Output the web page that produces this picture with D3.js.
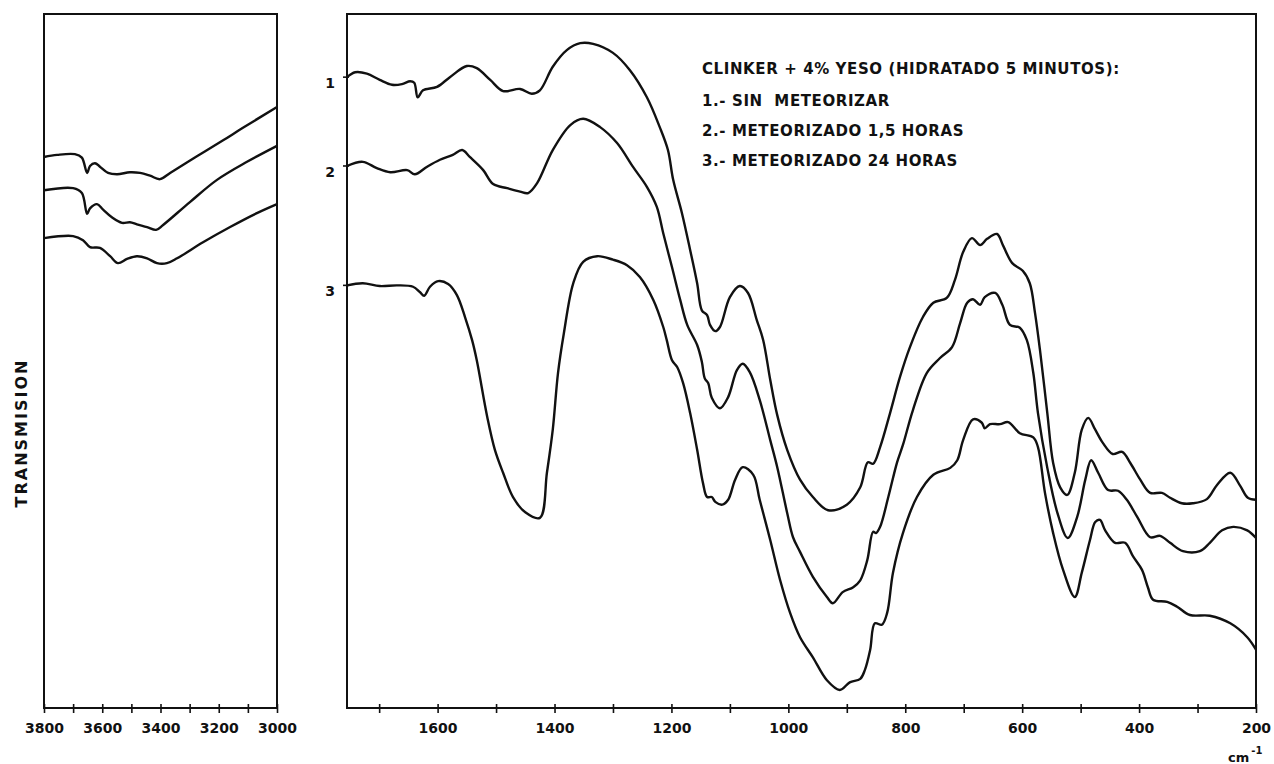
<!DOCTYPE html>
<html>
<head>
<meta charset="utf-8">
<script src="https://cdn.jsdelivr.net/npm/d3@7"></script>
<style>
  body { margin: 0; background: #fff; }
  svg text { font-family: "DejaVu Sans", sans-serif; font-weight: bold; fill: #111; }
</style>
</head>
<body>
<svg id="chart" width="1274" height="764"></svg>
<script>
// IR spectra, [wavenumber cm-1, transmission %] — 3800-3000 cm-1 region
const spectrum1High = [[3800,79.4],[3755,79.7],[3694,79.8],[3670,79.3],[3652,77.1],[3642,78.1],[3625,78.5],[3608,78.0],[3580,77.1],[3549,76.9],[3505,77.2],[3470,77.1],[3436,76.7],[3402,76.2],[3367,77.1],[3275,79.5],[3185,81.8],[3117,83.6],[3000,86.6]];
const spectrum2High = [[3800,74.6],[3700,74.9],[3670,74.2],[3652,71.2],[3642,72.0],[3618,72.6],[3597,71.8],[3567,70.7],[3532,69.9],[3505,70.0],[3481,69.7],[3446,69.3],[3415,68.9],[3391,69.6],[3299,72.9],[3206,76.1],[3103,78.7],[3000,81.0]];
const spectrum3High = [[3800,67.7],[3700,68.0],[3666,67.4],[3642,66.4],[3608,66.3],[3573,65.1],[3546,64.1],[3515,64.7],[3481,65.1],[3446,64.8],[3412,64.1],[3378,64.1],[3343,64.8],[3254,67.1],[3161,69.3],[3069,71.3],[3000,72.6]];

// 1755-200 cm-1 region
const spectrum1Low = [[1755,90.9],[1741,91.6],[1721,91.4],[1699,90.5],[1678,89.8],[1661,89.9],[1647,90.3],[1640,90.1],[1634,88.0],[1625,89.0],[1601,89.5],[1579,90.9],[1550,92.5],[1533,92.2],[1510,90.5],[1488,88.9],[1459,89.2],[1439,88.5],[1425,89.0],[1403,92.4],[1379,94.8],[1356,95.8],[1334,95.7],[1300,94.4],[1271,91.9],[1242,88.0],[1220,83.7],[1206,80.4],[1197,76.1],[1182,71.3],[1168,66.0],[1156,61.2],[1148,57.3],[1139,56.6],[1134,55.2],[1125,54.3],[1117,54.9],[1100,59.2],[1083,60.8],[1069,59.8],[1054,55.9],[1043,53.0],[1031,47.3],[1019,42.2],[1002,37.2],[980,32.9],[958,30.4],[932,28.5],[900,29.3],[877,31.8],[864,35.4],[855,35.2],[843,37.6],[826,42.5],[809,47.7],[792,52.0],[770,56.3],[752,58.4],[729,59.1],[715,61.7],[701,65.7],[686,67.7],[672,66.7],[660,67.6],[643,68.3],[633,66.7],[617,64.1],[599,63.0],[587,61.2],[578,56.9],[569,51.2],[557,42.5],[547,35.3],[535,31.8],[523,30.7],[510,33.9],[498,40.1],[487,41.8],[475,40.1],[462,38.2],[445,36.6],[429,36.9],[415,35.3],[398,32.9],[381,31.0],[361,31.0],[347,30.3],[327,29.5],[308,29.5],[284,30.1],[267,32.1],[244,33.9],[227,32.0],[214,30.3],[200,30.0]];
const spectrum2Low = [[1755,78.1],[1728,78.7],[1704,77.8],[1681,77.2],[1652,77.5],[1639,76.9],[1618,78.0],[1596,79.0],[1574,79.7],[1558,80.4],[1545,79.4],[1522,77.5],[1505,75.5],[1481,74.9],[1459,74.4],[1445,74.2],[1430,75.6],[1403,80.4],[1373,84.0],[1351,84.9],[1322,83.7],[1293,81.4],[1266,78.0],[1242,75.1],[1225,72.2],[1214,68.4],[1199,63.5],[1185,58.8],[1173,55.2],[1156,52.3],[1148,49.9],[1143,47.5],[1137,46.8],[1131,44.7],[1117,43.2],[1103,44.8],[1088,48.7],[1078,49.6],[1066,48.4],[1049,44.4],[1031,38.6],[1019,34.7],[1002,28.1],[992,24.6],[980,22.5],[958,18.9],[934,16.0],[924,15.1],[907,16.7],[889,17.4],[877,18.4],[865,21.3],[855,25.4],[850,25.2],[843,26.1],[829,30.4],[814,35.4],[804,37.9],[787,42.9],[763,48.3],[741,50.4],[720,52.0],[706,55.5],[694,58.4],[684,58.9],[672,58.1],[664,59.2],[646,59.8],[634,58.1],[621,55.2],[604,54.8],[592,53.0],[581,48.3],[573,42.5],[557,34.6],[540,28.2],[522,24.5],[506,27.5],[492,32.9],[482,35.7],[470,33.9],[453,31.4],[436,31.3],[421,30.0],[403,27.5],[381,24.6],[364,24.8],[347,23.8],[325,22.6],[296,22.6],[279,23.8],[258,25.6],[239,26.1],[215,25.6],[200,24.5]];
const spectrum3Low = [[1755,60.9],[1728,61.2],[1699,60.8],[1669,60.9],[1642,60.7],[1630,59.9],[1623,59.4],[1613,60.7],[1599,61.5],[1582,61.1],[1567,59.5],[1553,56.3],[1541,53.0],[1533,50.1],[1515,41.9],[1502,37.2],[1488,33.9],[1471,30.4],[1450,28.2],[1425,27.4],[1413,33.9],[1403,40.1],[1394,48.3],[1384,54.0],[1368,61.2],[1351,64.3],[1327,65.1],[1300,64.6],[1276,63.8],[1254,62.1],[1231,58.8],[1214,54.9],[1208,53.0],[1199,50.1],[1190,49.1],[1180,46.8],[1168,42.5],[1156,37.2],[1146,32.4],[1139,30.4],[1131,30.4],[1125,29.7],[1113,29.3],[1103,30.0],[1091,32.9],[1078,34.7],[1060,33.6],[1049,30.0],[1031,24.2],[1014,18.4],[997,13.7],[980,10.2],[958,7.3],[934,4.0],[912,2.6],[895,3.7],[877,4.2],[869,5.5],[860,8.4],[852,12.2],[840,12.0],[831,13.7],[821,19.5],[804,25.2],[780,30.4],[752,33.6],[723,34.6],[711,35.7],[701,38.6],[684,41.6],[669,41.1],[664,40.3],[655,40.9],[638,40.9],[624,41.2],[604,39.6],[581,39.0],[573,37.6],[561,31.0],[547,25.2],[530,19.9],[510,16.0],[498,19.5],[484,24.2],[475,26.8],[467,27.1],[458,25.6],[441,23.8],[424,23.8],[410,21.8],[395,19.9],[385,17.4],[376,15.6],[352,15.3],[335,14.6],[313,13.4],[279,13.3],[244,12.2],[215,10.2],[200,8.4]];

const seriesNames = ["1", "2", "3"];
const highTicks = [3800, 3700, 3600, 3500, 3400, 3300, 3200, 3100, 3000];
const highTickLabels = [3800, 3600, 3400, 3200, 3000];
const lowTicks = [1700, 1600, 1500, 1400, 1300, 1200, 1100, 1000, 900, 800, 700, 600, 500, 400, 300, 200];
const lowTickLabels = [1600, 1400, 1200, 1000, 800, 600, 400, 200];
const legendTitle = "CLINKER + 4% YESO (HIDRATADO 5 MINUTOS):";
const legendItems = ["1.- SIN  METEORIZAR", "2.- METEORIZADO 1,5 HORAS", "3.- METEORIZADO 24 HORAS"];
const yTitle = "TRANSMISION";
const unitLabel = "cm";

const svg = d3.select("#chart");
const ink = "#111";

const yT = d3.scaleLinear().domain([0, 100]).range([708, 14]);
const xHigh = d3.scaleLinear().domain([3800, 3000]).range([44, 277]);
const xLow = d3.scaleLinear().domain([1755, 200]).range([347, 1256]);

const lineFor = x => d3.line()
  .x(d => x(d[0]))
  .y(d => yT(d[1]))
  .curve(d3.curveCatmullRom.alpha(0.5));

// panel frames
[xHigh, xLow].forEach(x => {
  const [x0, x1] = x.range();
  svg.append("rect")
    .attr("x", x0).attr("y", yT(100))
    .attr("width", x1 - x0).attr("height", yT(0) - yT(100))
    .attr("fill", "none").attr("stroke", ink).attr("stroke-width", 2);
});

// bottom axes with crossing ticks
function drawAxis(scale, values, labelled) {
  const g = svg.append("g")
    .attr("transform", `translate(0,${yT(0)})`)
    .call(d3.axisBottom(scale).tickValues(values)
      .tickFormat(d => labelled.includes(d) ? d : "")
      .tickSizeOuter(0));
  g.attr("font-family", null).attr("font-size", null);
  g.select(".domain").remove();
  g.selectAll(".tick line")
    .attr("y1", -4).attr("y2", 5)
    .attr("stroke", ink).attr("stroke-width", 1.6);
  g.selectAll(".tick text")
    .attr("y", 25).attr("dy", null)
    .attr("font-size", 14).attr("fill", ink);
}
drawAxis(xHigh, highTicks, highTickLabels);
drawAxis(xLow, lowTicks, lowTickLabels);

// spectra
const highSet = [spectrum1High, spectrum2High, spectrum3High];
const lowSet = [spectrum1Low, spectrum2Low, spectrum3Low];

highSet.forEach(s => {
  svg.append("path").datum(s)
    .attr("d", lineFor(xHigh))
    .attr("fill", "none").attr("stroke", ink)
    .attr("stroke-width", 2.4).attr("stroke-linejoin", "round");
});
lowSet.forEach((s, i) => {
  svg.append("path").datum(s)
    .attr("d", lineFor(xLow))
    .attr("fill", "none").attr("stroke", ink)
    .attr("stroke-width", 2.4).attr("stroke-linejoin", "round");
  const y0 = yT(s[0][1]);
  // start marks on the left frame and curve number
  svg.append("line")
    .attr("x1", xLow.range()[0] - 4).attr("x2", xLow.range()[0] + 2)
    .attr("y1", y0).attr("y2", y0)
    .attr("stroke", ink).attr("stroke-width", 1.6);
  svg.append("text")
    .attr("x", xLow.range()[0] - 17).attr("y", y0 + 11)
    .attr("text-anchor", "middle").attr("font-size", 14)
    .text(seriesNames[i]);
});

// legend block
svg.append("text")
  .attr("x", 702).attr("y", 74)
  .attr("font-size", 15).attr("letter-spacing", 0.6)
  .text(legendTitle);
legendItems.forEach((t, i) => {
  svg.append("text")
    .attr("x", 702).attr("y", 106 + i * 30)
    .attr("font-size", 15).attr("letter-spacing", 0.6)
    .attr("xml:space", "preserve")
    .text(t);
});

// y-axis title
svg.append("text")
  .attr("transform", "translate(27,433) rotate(-90)")
  .attr("text-anchor", "middle")
  .attr("font-size", 16).attr("letter-spacing", 2)
  .text(yTitle);

// unit label
const unit = svg.append("text")
  .attr("x", 1228).attr("y", 762)
  .attr("font-size", 13);
unit.append("tspan").text(unitLabel);
unit.append("tspan").attr("dy", -8).attr("dx", 2).attr("font-size", 10).text("-1");
</script>
</body>
</html>
